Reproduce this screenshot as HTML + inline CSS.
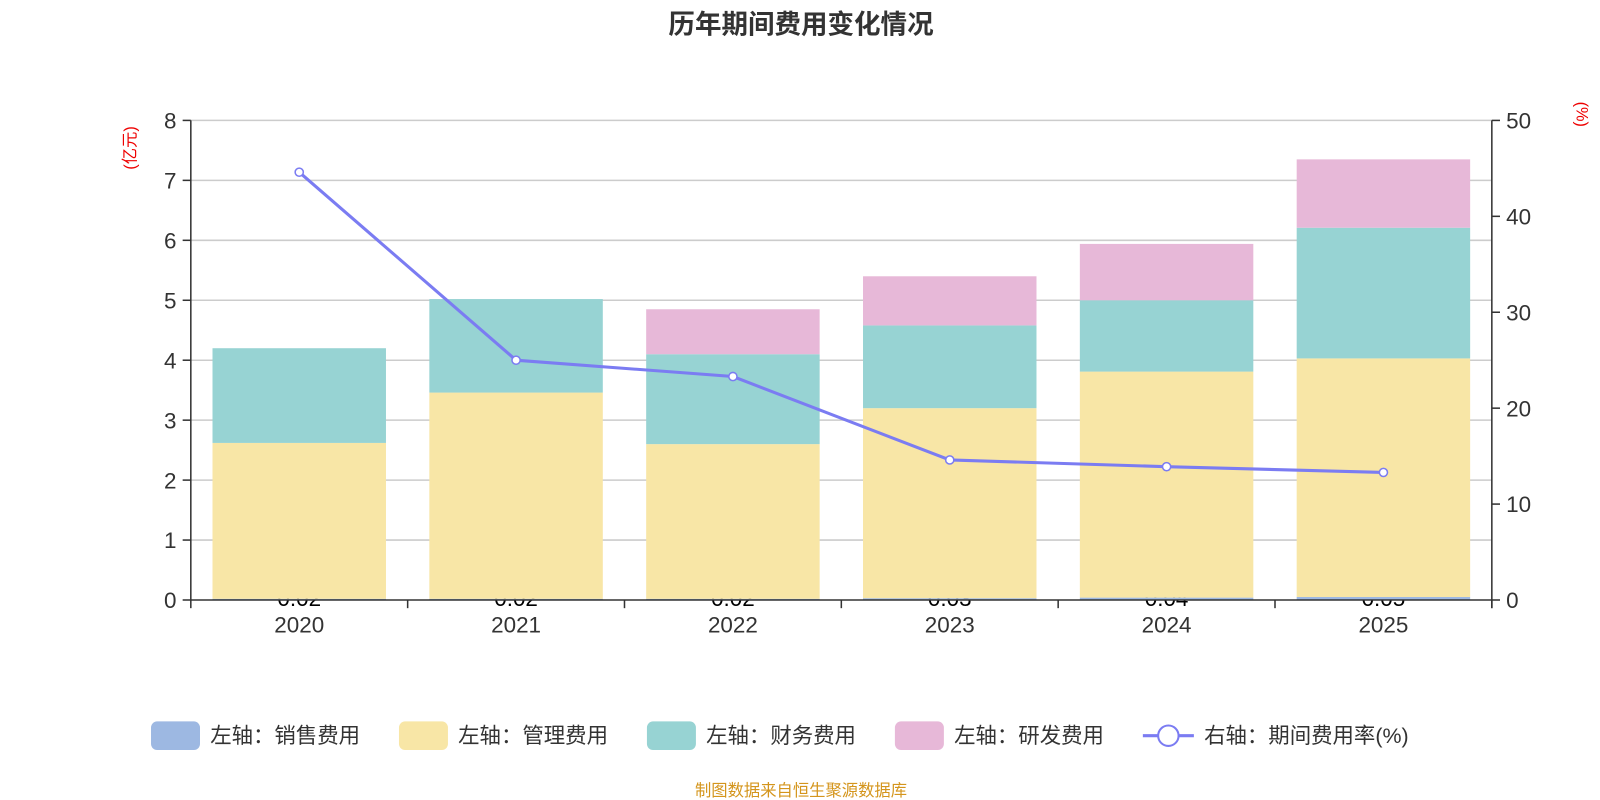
<!DOCTYPE html>
<html><head><meta charset="utf-8"><style>
body{margin:0;background:#fff;font-family:"Liberation Sans","Noto Sans CJK SC",sans-serif}
</style></head><body>
<svg id="c" width="1600" height="800" viewBox="0 0 1568 784" xmlns="http://www.w3.org/2000/svg" style="display:block;font-family:'Liberation Sans','Noto Sans CJK SC',sans-serif">
<text x="785" y="33" text-anchor="middle" font-size="26" font-weight="bold" fill="#333">历年期间费用变化情况</text>
<text transform="translate(133,145) rotate(-90)" text-anchor="middle" font-size="16" fill="#e00">(亿元)</text>
<text transform="translate(1545,112) rotate(90)" text-anchor="middle" font-size="16" fill="#e00">(%)</text>
<g id="grid"></g><g id="labels"></g><g id="bars"></g><g id="axes"></g><g id="line"></g>
<g id="legend" font-size="21" fill="#333">
<g><rect x="148" y="707" width="48" height="28" rx="6" fill="#9db8e2"/><text x="206" y="728">左轴：销售费用</text></g>
<g><rect x="391" y="707" width="48" height="28" rx="6" fill="#f8e6a6"/><text x="449" y="728">左轴：管理费用</text></g>
<g><rect x="634" y="707" width="48" height="28" rx="6" fill="#97d3d3"/><text x="692" y="728">左轴：财务费用</text></g>
<g><rect x="877" y="707" width="48" height="28" rx="6" fill="#e7b8d8"/><text x="935" y="728">左轴：研发费用</text></g>
<g><line x1="1120" y1="721" x2="1170" y2="721" stroke="#7b7cf2" stroke-width="3"/><circle cx="1145" cy="721" r="10" fill="#fff" stroke="#7b7cf2" stroke-width="2"/><text x="1180" y="728">右轴：期间费用率(%)</text></g>
</g>
<text x="785" y="780" text-anchor="middle" font-size="16" fill="#d4951c">制图数据来自恒生聚源数据库</text>
</svg>
<script>
const years=["2020","2021","2022","2023","2024","2025"];
const sales=[0.02,0.02,0.02,0.03,0.04,0.05];
const admin=[2.60,3.44,2.58,3.17,3.77,3.98];
const finance=[1.58,1.56,1.50,1.38,1.19,2.18];
const rd=[0,0,0.75,0.82,0.94,1.14];
const rate=[44.6,25.0,23.3,14.6,13.9,13.3];
const leftTicks=[0,1,2,3,4,5,6,7,8];
const rightTicks=[0,10,20,30,40,50];
const NS="http://www.w3.org/2000/svg";
const X0=187,X1=1462,Y0=588,Y1=118;
const bw=(X1-X0)/years.length;
const yL=v=>Y0-(v/8)*(Y0-Y1);
const yR=v=>Y0-(v/50)*(Y0-Y1);
const xC=i=>X0+bw*(i+0.5);
function mk(t,a,p){const e=document.createElementNS(NS,t);for(const k in a)e.setAttribute(k,a[k]);p.appendChild(e);return e;}
const grid=document.getElementById('grid'),axes=document.getElementById('axes'),bars=document.getElementById('bars'),labels=document.getElementById('labels'),line=document.getElementById('line');
leftTicks.forEach(v=>{const y=yL(v);
 if(v>0){const g=mk('line',{x1:X0,x2:X1,y1:y,y2:y,stroke:'#ccc','stroke-width':1.5},grid);}
 mk('line',{x1:X0-8,x2:X0,y1:y,y2:y,stroke:'#333','stroke-width':1.5},axes);
 const t=mk('text',{x:X0-14,y:y+8,'text-anchor':'end','font-size':22,fill:'#333'},axes);t.textContent=v;
 });
rightTicks.forEach(v=>{const y=yR(v);
 mk('line',{x1:X1,x2:X1+8,y1:y,y2:y,stroke:'#333','stroke-width':1.5},axes);
 const t=mk('text',{x:X1+14,y:y+8,'font-size':22,fill:'#333'},axes);t.textContent=v;
 });
mk('line',{x1:X0,x2:X0,y1:Y1,y2:Y0,stroke:'#333','stroke-width':1.5},axes);
mk('line',{x1:X1,x2:X1,y1:Y1,y2:Y0+8,stroke:'#333','stroke-width':1.5},axes);
mk('line',{x1:X0,x2:X1,y1:Y0,y2:Y0,stroke:'#333','stroke-width':1.5},axes);
for(let i=0;i<=years.length;i++){mk('line',{x1:X0+bw*i,x2:X0+bw*i,y1:Y0,y2:Y0+8,stroke:'#333','stroke-width':1.5},axes);}
const series=[[sales,'#9db8e2','bar-sales'],[admin,'#f8e6a6','bar-admin'],[finance,'#97d3d3','bar-finance'],[rd,'#e7b8d8','bar-rd']];
years.forEach((yr,i)=>{
 const t=mk('text',{x:xC(i),y:Y0+32,'text-anchor':'middle','font-size':22,fill:'#333'},axes);t.textContent=yr;
 
 const l=mk('text',{x:xC(i),y:Y0+6,'text-anchor':'middle','font-size':22,fill:'#000'},labels);l.textContent=sales[i].toFixed(2);
 
 let base=0;
 series.forEach(([arr,col,nm])=>{const v=arr[i];if(v<=0)return;
  const r=mk('rect',{x:xC(i)-85,width:170,y:yL(base+v),height:yL(base)-yL(base+v),fill:col},bars);
  base+=v;});
});
const pts=rate.map((v,i)=>xC(i)+','+yR(v)).join(' ');
const pl=mk('polyline',{points:pts,fill:'none',stroke:'#7b7cf2','stroke-width':3},line);

rate.forEach((v,i)=>{const c=mk('circle',{cx:xC(i),cy:yR(v),r:4,fill:'#fff',stroke:'#7b7cf2','stroke-width':1.5},line);
 });
</script>
</body></html>
